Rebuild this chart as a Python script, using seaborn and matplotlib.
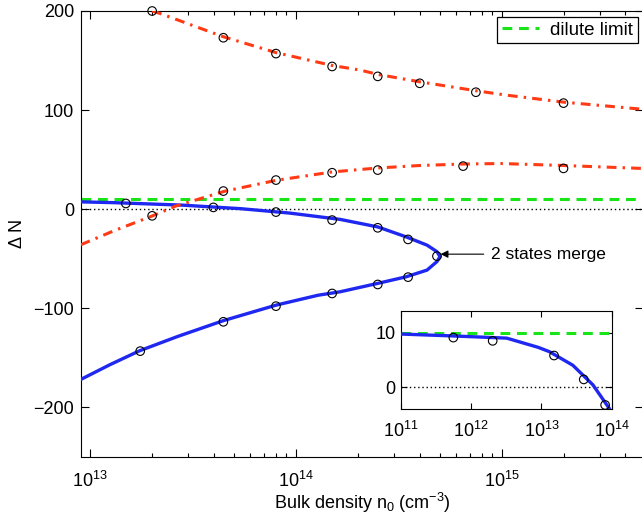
import matplotlib
matplotlib.use("Agg")
import matplotlib.pyplot as plt
import seaborn as sns
import numpy as np

# ---------------- data ----------------
# blue solid curve (lower branch pair, joined at the merge point)
blue_x = [1e11, 5.6e11, 3.2e12, 9e12, 1.3e13, 2.8e13, 5.4e13, 9.3e13, 1.64e14,
          2.5e14, 3.43e14, 4.34e14, 4.85e14, 5.02e14,
          4.85e14, 4.34e14, 3.43e14, 2.5e14, 1.64e14, 1.28e14, 8e13, 4.46e13,
          2.67e13, 1.74e13, 1.25e13, 9e12]
blue_y = [9.75, 9.4, 9.0, 7.3, 6.5, 4.0, 0.4, -4.0, -10.4,
          -18, -28, -36.4, -43, -48,
          -53, -61.6, -68.4, -75, -83.5, -87, -97, -112.5,
          -128.5, -143, -157, -172]

# red dash-dot curves
red_up_x = [2e13, 2.18e13, 4.44e13, 8e13, 1.5e14, 2.05e14, 2.5e14, 4e14, 7.5e14,
            1.06e15, 2e15, 4.9e15]
red_up_y = [200, 197.6, 174, 158, 145, 140.4, 136, 128.5, 119.5, 115, 108, 100.7]

red_mid_x = [9e12, 1.3e13, 2e13, 2.6e13, 4.5e13, 8e13, 1.5e14, 2.5e14, 4e14,
             6.5e14, 1e15, 2e15, 4.9e15]
red_mid_y = [-36, -22, -7, 3, 18, 29, 37.5, 41.5, 44, 45.5, 46, 44, 41]

# circles (simulation points)
circ_x = [2e13, 4.44e13, 8e13, 1.5e14, 2.5e14, 4e14, 7.5e14, 2e15,
          2e13, 4.44e13, 8e13, 1.5e14, 2.5e14, 6.5e14, 2e15,
          1.49e13, 3.97e13, 8e13, 1.5e14, 2.5e14, 3.51e14, 4.85e14,
          3.51e14, 2.5e14, 1.5e14, 8e13, 4.44e13, 1.75e13]
circ_y = [200, 173, 157, 144, 134, 127, 118, 107,
          -6.8, 18.2, 29.3, 36.7, 39.4, 43.4, 41.1,
          5.7, 1.7, -3, -11.1, -18.9, -30.6, -47.5,
          -68.7, -76.1, -85.2, -98, -113.8, -143.4]

inset_circ_x = [5.56e11, 2.02e12, 1.51e13, 4e13, 8.06e13]
inset_circ_y = [9.1, 8.5, 5.8, 1.4, -3.3]

dilute_limit = 10
zero_level = 0
y_ticks = [-200, -100, 0, 100, 200]
inset_y_ticks = [0, 10]
inset_x_ticks = [1e11, 1e12, 1e13, 1e14]
merge_label = "2 states merge"

# ---------------- style ----------------
sns.set_style("ticks")
plt.rcParams['font.family'] = ['Liberation Sans', 'DejaVu Sans']
plt.rcParams['mathtext.fontset'] = 'custom'
plt.rcParams['mathtext.rm'] = 'Liberation Sans'
plt.rcParams['mathtext.it'] = 'Liberation Sans:italic'
plt.rcParams['axes.edgecolor'] = 'black'
plt.rcParams['xtick.color'] = 'black'
plt.rcParams['ytick.color'] = 'black'
plt.rcParams['text.color'] = 'black'
plt.rcParams['axes.labelcolor'] = 'black'

BLUE = "#1f28f0"
RED = "#ff3a14"
GREEN = "#18e418"
FS = 13

fig = plt.figure(figsize=(6.42, 5.2), dpi=100)
ax = fig.add_axes([81 / 642, 1 - 456.7 / 520, (643 - 81) / 642, (456.7 - 11) / 520])
ax.set_xscale('log')

def style_axes(a, fs):
    for s in a.spines.values():
        s.set_linewidth(0.8)
        s.set_color('black')
    a.tick_params(which='both', direction='in', top=True, right=True,
                  labelsize=fs, width=0.8)
    a.tick_params(which='major', length=6)
    a.tick_params(which='minor', length=3)

def draw_common(a):
    a.axhline(zero_level, color='black', lw=1.0, ls=(0, (1, 2)), zorder=1)
    g = a.axhline(dilute_limit, color=GREEN, lw=2.2, ls=(0, (3.2, 2.2)),
                  zorder=2, label='dilute limit')
    sns.lineplot(x=blue_x, y=blue_y, sort=False, estimator=None, color=BLUE,
                 lw=2.4, ax=a, zorder=3, legend=False)
    return g

# main panel
g = draw_common(ax)
for xs, ys in [(red_up_x, red_up_y), (red_mid_x, red_mid_y)]:
    sns.lineplot(x=xs, y=ys, sort=False, estimator=None, color=RED, lw=2.2,
                 ax=ax, zorder=3, legend=False)
    ax.lines[-1].set_linestyle((0, (3.2, 2.0, 0.8, 2.0)))
sns.scatterplot(x=circ_x, y=circ_y, ax=ax, s=38, marker='o', legend=False,
                facecolor='none', edgecolor='black', linewidth=0.8, zorder=5)
ax.collections[-1].set_facecolor('none')
ax.collections[-1].set_edgecolor('black')
ax.collections[-1].set_clip_on(False)

ax.set_xlim(9.02e12, 4.87e15)
ax.set_ylim(-250, 200)
ax.set_yticks(y_ticks)
style_axes(ax, FS)
ax.tick_params(axis='x', pad=10)
ax.tick_params(axis='y', pad=5)
ax.set_xlabel(r"Bulk density n$_0$ (cm$^{-3}$)", fontsize=FS, labelpad=0)
ax.set_ylabel("\u0394 N", fontsize=FS, labelpad=5)

ax.annotate(merge_label, xy=(5.05e14, -45.5), xytext=(8.9e14, -45.5),
            fontsize=12.5, va='center', ha='left',
            arrowprops=dict(arrowstyle='-|>', color='black', lw=0.8,
                            shrinkA=3, shrinkB=0, mutation_scale=11))

leg = ax.legend(handles=[g], loc='upper right',
                bbox_to_anchor=((638 - 81) / (643 - 81), (456.7 - 16.7) / 445.7),
                borderaxespad=0, fontsize=13.5, frameon=True, fancybox=False,
                framealpha=1, edgecolor='black', handlelength=2.0,
                handletextpad=0.6, borderpad=0.25)
leg.get_frame().set_linewidth(0.9)

# inset
axi = fig.add_axes([401 / 642, 1 - 409.3 / 520, 210.7 / 642, 98.6 / 520])
axi.set_xscale('log')
draw_common(axi)
sns.scatterplot(x=inset_circ_x, y=inset_circ_y, ax=axi, s=38, marker='o',
                legend=False, facecolor='none', edgecolor='black',
                linewidth=0.8, zorder=5)
axi.collections[-1].set_facecolor('none')
axi.collections[-1].set_edgecolor('black')
axi.collections[-1].set_clip_on(False)
axi.set_xlim(1e11, 1e14)
axi.set_ylim(-4.1, 14.05)
axi.set_xticks(inset_x_ticks)
axi.set_yticks(inset_y_ticks)
style_axes(axi, FS)
axi.tick_params(which='major', length=4)
axi.tick_params(which='minor', length=2)
axi.tick_params(axis='x', pad=8)
axi.tick_params(axis='y', pad=4)
axi.set_xlabel("")
axi.set_ylabel("")
if axi.get_legend() is not None:
    axi.get_legend().remove()

fig.savefig("out.png", dpi=100)
